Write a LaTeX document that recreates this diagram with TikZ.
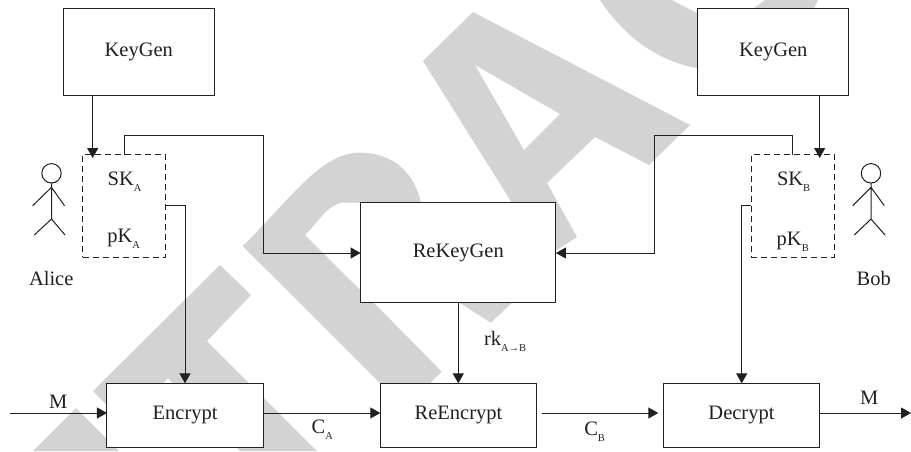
\documentclass[tikz,border=0pt]{standalone}
\usepackage{fontspec}
\setmainfont{Liberation Serif}
\usetikzlibrary{arrows.meta}
\definecolor{ink}{HTML}{231F20}
\definecolor{mark}{HTML}{D3D3D3}
\newcommand{\lowsub}[1]{\raisebox{-6pt}{\fontsize{10.5}{10.5}\selectfont #1}}
\tikzset{
  wm/.style={fill=mark,draw=none},
  blockbox/.style={draw=ink,fill=white,line width=1pt,inner sep=0pt,outer sep=0pt,text=ink,font=\fontsize{20.5}{24}\selectfont},
  keybox/.style={draw=ink,dash pattern=on 6pt off 4pt,line width=1pt,inner sep=0pt,outer sep=0pt,minimum width=83pt,minimum height=102.5pt},
  conn/.style={draw=ink,line width=1pt},
  arrowed/.style={conn,-{Triangle[length=10pt,width=11pt]}},
  lab/.style={anchor=base west,inner sep=0pt,outer sep=0pt,text=ink,font=\fontsize{20.5}{24}\selectfont},
  person/.style={draw=ink,line width=1pt}
}
\begin{document}
\begin{tikzpicture}[x=1pt,y=-1pt]
\useasboundingbox (0,0) rectangle (911,451);
% watermark
\fill[wm] (33,451) -- (76,408) -- (119,451) -- cycle;
\fill[wm] (220,265) -- (251,295) -- (207,341) -- (317,451) -- (240,451) -- (168,378) -- (124,422) -- (93,391) -- cycle;
\fill[wm] (242.7,246) .. controls (290,200) and (320,152.7) .. (360,152.7) .. controls (395,152.7) and (415,175) .. (421,203) -- (430,240) -- (470,300) -- (460,303) -- (490.7,322.7) -- (511.7,303) -- (500,240) -- (400,203) -- (346.7,202.7) .. controls (330,201) and (320,220) .. (305,235) -- (350,280) -- (378,307) -- (441.7,371.7) -- (430,383) -- (380,383) -- cycle;
\fill[wm,even odd rule] (473,12) -- (690,125) -- (649,165) -- (595,137) -- (547,183) -- (577,237) -- (556.7,250) -- (530,260) -- (512,203) -- (423,61) -- cycle
  (475,65) -- (560,114) -- (524,150) -- cycle;
\fill[wm] (600,0) .. controls (625,38) and (660,62) .. (697,68) -- (790,60) -- (818,0) -- (765,0) -- (745,15) -- (697,13) .. controls (690,9) and (680,5) .. (672,0) -- cycle;
% blocks
\node[blockbox,minimum width=151.2pt,minimum height=87.7pt] (kgA) at (138.8,52.1) {KeyGen};
\node[blockbox,minimum width=151.3pt,minimum height=87.7pt] (kgB) at (773.3,52.1) {KeyGen};
\node[blockbox,minimum width=195.3pt,minimum height=99.6pt] (rekey) at (458.3,252.5) {ReKeyGen};
\node[blockbox,minimum width=156.3pt,minimum height=63.7pt] (enc) at (185.1,415.2) {Encrypt};
\node[blockbox,minimum width=156.4pt,minimum height=63.7pt] (reenc) at (458.5,415.2) {ReEncrypt};
\node[blockbox,minimum width=156.4pt,minimum height=63.7pt] (dec) at (741.5,415.2) {Decrypt};
\node[keybox] (skA) at (124.2,205.75) {};
\node[keybox] (skB) at (792.5,205.75) {};
% labels
\node[lab] (tskA) at (107.7,185) {SK\lowsub{A}};
\node[lab] (tpkA) at (107.3,242) {pK\lowsub{A}};
\node[lab] (tskB) at (777,185) {SK\lowsub{B}};
\node[lab] (tpkB) at (776.7,245) {pK\lowsub{B}};
\node[lab] (alice) at (29,285) {Alice};
\node[lab] (bob) at (856.7,285) {Bob};
\node[lab] (mIn) at (49,408) {M};
\node[lab] (mOut) at (860,404) {M};
\node[lab] (cA) at (311.7,433) {C\lowsub{A}};
\node[lab] (cB) at (584.3,435.7) {C\lowsub{B}};
\node[lab] (rk) at (484,345) {rk\lowsub{A→B}};
% waypoints
\coordinate (downA) at (92.7,96);
\coordinate (downB) at (819.7,96);
\coordinate (a1) at (124.2,135);
\coordinate (a2) at (263.5,135);
\coordinate (a3) at (263.5,253);
\coordinate (b1) at (792.5,135);
\coordinate (b2) at (654,135);
\coordinate (b3) at (654,253);
\coordinate (c1) at (185,205.7);
\coordinate (d1) at (741.7,205.7);
\coordinate (mStart) at (10,413);
\coordinate (mEnd) at (911,413);
% connectors
\draw[arrowed] (downA) -- (downA |- skA.north) -- ++(0,3.5);
\draw[arrowed] (downB) -- (downB |- skB.north) -- ++(0,3.5);
\draw[arrowed] (skA.north) -- (a1) -- (a2) -- (a3) -- (a3 -| rekey.west);
\draw[arrowed] (skB.north) -- (b1) -- (b2) -- (b3) -- (b3 -| rekey.east);
\draw[arrowed] (c1 -| skA.east) -- (c1) -- (c1 |- enc.north);
\draw[arrowed] (d1 -| skB.west) -- (d1) -- (d1 |- dec.north);
\draw[arrowed] (rekey.south) -- (rekey.south |- reenc.north);
\draw[arrowed] (mStart) -- (mStart -| enc.west);
\draw[arrowed] (mStart -| enc.east) -- (mStart -| reenc.west);
\draw[arrowed,shorten <=5pt,shorten >=5pt] (mStart -| reenc.east) -- (mStart -| dec.west);
\draw[arrowed] (mStart -| dec.east) -- (mEnd);
% people
\node[person,circle,minimum size=19.4pt,inner sep=0pt,outer sep=0pt] (headA) at (51.5,173.3) {};
\coordinate (hipA) at (51.5,219);
\coordinate (shA) at (51.5,187.3);
\coordinate (armA1) at (32.7,205.7);
\coordinate (armA2) at (64.5,205.7);
\coordinate (legA1) at (34.3,235);
\coordinate (legA2) at (65,235);
\draw[person] (headA.south) -- (hipA) (armA1) -- (shA) -- (armA2) (legA1) -- (hipA) -- (legA2);
\node[person,circle,minimum size=19.4pt,inner sep=0pt,outer sep=0pt] (headB) at (871,173.3) {};
\coordinate (hipB) at (871,219);
\coordinate (shB) at (871,187.3);
\coordinate (armB1) at (852.7,205.7);
\coordinate (armB2) at (884.3,205.7);
\coordinate (legB1) at (854.3,235);
\coordinate (legB2) at (885,235);
\draw[person] (headB.south) -- (hipB) (armB1) -- (shB) -- (armB2) (legB1) -- (hipB) -- (legB2);
\end{tikzpicture}
\end{document}
